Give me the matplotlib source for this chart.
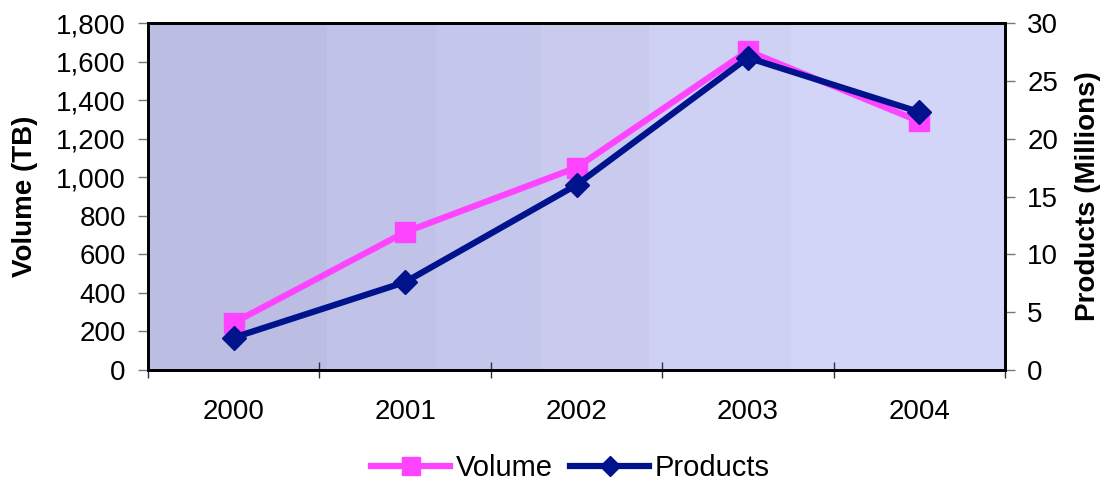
import matplotlib
matplotlib.use("Agg")
import matplotlib.pyplot as plt
import numpy as np
from matplotlib.patches import Rectangle

years = ["2000", "2001", "2002", "2003", "2004"]
volume_tb = [245, 715, 1050, 1655, 1290]
products_m = [2.8, 7.6, 16.0, 27.0, 22.3]

vol_color = "#FF44FF"
prod_color = "#00128C"

plt.rcParams['font.family'] = ["Liberation Sans", "DejaVu Sans"]

fig = plt.figure(figsize=(11.06, 4.86), dpi=100)
ax = fig.add_axes([148/1106, 1-370/486, (1005-148)/1106, (370-23)/486])
ax2 = ax.twinx()

# stepped gradient background bands (axes fraction)
band_edges = [0.0, 0.209, 0.336, 0.458, 0.585, 0.750, 1.0]
band_colors = ["#BBBDE3", "#C0C2E8", "#C4C6EB", "#C9CAEE", "#CED0F4", "#D2D4F8"]
for i, c in enumerate(band_colors):
    ax.add_patch(Rectangle((band_edges[i], 0), band_edges[i+1]-band_edges[i], 1,
                           transform=ax.transAxes, color=c, lw=0, zorder=0))

x = np.arange(len(years))
ax.plot(x, volume_tb, color=vol_color, lw=4.5, marker="s", ms=15, mec=vol_color, zorder=3, label="Volume")
ax2.plot(x, products_m, color=prod_color, lw=4.5, marker="D", ms=12, mec=prod_color, zorder=3, label="Products")

ax.set_xlim(-0.5, 4.5)
ax.set_ylim(0, 1800)
ax2.set_ylim(0, 30)
ax.set_yticks(np.arange(0, 1801, 200))
ax.set_yticklabels([f"{v:,}" for v in range(0, 1801, 200)])
ax2.set_yticks(np.arange(0, 31, 5))

ax.set_xticks(x)
ax.set_xticklabels(years, fontsize=20)
ax.set_xticks(np.arange(-0.5, 4.6, 1), minor=True)
ax.tick_params(axis="x", which="major", length=0, pad=21)
ax.tick_params(axis="x", which="minor", direction="inout", length=12, width=1, color="#333333")

ax.tick_params(axis="y", direction="out", length=7, width=1, color="#777777", labelsize=20, pad=9)
ax2.tick_params(axis="y", direction="out", length=7, width=1, color="#777777", labelsize=20, pad=9)

for a in (ax, ax2):
    for s in a.spines.values():
        s.set_linewidth(2)
        s.set_color("black")

ax.set_ylabel("Volume (TB)", fontsize=20, fontweight="bold")
ax.yaxis.set_label_coords(-0.1284, 0.5)
ax2.set_ylabel("Products (Millions)", fontsize=20, fontweight="bold")
ax2.yaxis.set_label_coords(1.0817, 0.5)

h1, l1 = ax.get_legend_handles_labels()
h2, l2 = ax2.get_legend_handles_labels()
fig.legend(h1 + h2, l1 + l2, loc="center", bbox_to_anchor=(0.516, 0.037), ncol=2,
           frameon=False, fontsize=21, handlelength=2.7, handletextpad=0.2,
           columnspacing=0.6, markerscale=0.85)

fig.savefig("out.png", dpi=100)
